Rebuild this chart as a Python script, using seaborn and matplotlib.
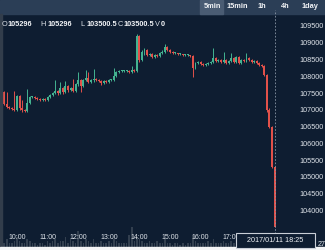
import numpy as np
import pandas as pd
import matplotlib
matplotlib.use("Agg")
import matplotlib.pyplot as plt
import seaborn as sns
from matplotlib.patches import Rectangle

# ---------------- data (5-minute candles, 09:30 -> 18:25) ----------------
opens = [107231, 107530, 107172, 107082, 107052, 107022, 106993, 107411, 107052, 106993,
         106963, 107202, 107381, 107381, 107351, 107321, 107291, 107321, 107291, 107381,
         107440, 107500, 107560, 107500, 107649, 107530, 107709, 107590, 107649, 107560,
         107769, 107888, 107709, 107888, 107948, 107828, 107888, 107918, 107888, 107858,
         107799, 107858, 107828, 107888, 107888, 108008, 108127, 108157, 108157, 108157,
         108157, 108127, 108187, 108157, 109202, 108485, 108724, 108784, 108634, 108664,
         108575, 108634, 108605, 108694, 108724, 108873, 108784, 108724, 108694, 108694,
         108664, 108664, 108634, 108634, 108634, 108605, 108246, 108396, 108425, 108366,
         108336, 108366, 108396, 108425, 108545, 108455, 108485, 108425, 108485, 108396,
         108455, 108545, 108425, 108575, 108396, 108485, 108455, 108545, 108485, 108425,
         108455, 108396, 108336, 108306, 108037, 106993, 106485, 105296]
highs = [107590, 107560, 107530, 107112, 107082, 107560, 107440, 107440, 107291, 107022,
         107619, 107411, 107411, 107411, 107381, 107351, 107351, 107351, 107411, 107470,
         107530, 107888, 107590, 107828, 107679, 107858, 107739, 107679, 107918, 107799,
         108127, 107918, 107918, 108187, 108127, 107918, 108216, 107948, 107918, 107888,
         107888, 107888, 107918, 107918, 108246, 108157, 108187, 108187, 108187, 108187,
         108187, 108306, 108216, 109261, 109231, 108784, 108843, 108814, 108694, 108694,
         108664, 108664, 108724, 108784, 108963, 108903, 108814, 108754, 108724, 108694,
         108694, 108664, 108664, 108664, 108634, 108634, 108425, 108455, 108455, 108396,
         108396, 108425, 108455, 108843, 108575, 108515, 108515, 108724, 108515, 108485,
         108694, 108575, 108605, 108605, 108515, 108515, 108694, 108575, 108515, 108485,
         108485, 108425, 108366, 108336, 108067, 107052, 106515, 105296]
lows = [107202, 107142, 107052, 107022, 106993, 106963, 106963, 106993, 106933, 106933,
        106933, 107172, 107351, 107321, 107291, 107261, 107261, 107261, 107261, 107351,
        107411, 107470, 107440, 107470, 107470, 107500, 107530, 107560, 107530, 107530,
        107709, 107530, 107679, 107858, 107799, 107799, 107828, 107858, 107828, 107739,
        107769, 107799, 107799, 107858, 107858, 107978, 108097, 108127, 108127, 108127,
        108097, 108097, 108127, 108127, 108425, 108455, 108634, 108605, 108605, 108545,
        108545, 108575, 108575, 108664, 108694, 108754, 108694, 108664, 108664, 108634,
        108634, 108605, 108605, 108605, 108575, 107978, 108216, 108366, 108336, 108306,
        108306, 108336, 108366, 108396, 108425, 108425, 108396, 108396, 108366, 108366,
        108425, 108396, 108396, 108366, 108366, 108425, 108425, 108455, 108396, 108396,
        108366, 108306, 108276, 108008, 106933, 106455, 105261, 103500.5]
closes = [107530, 107172, 107082, 107052, 107022, 106993, 107411, 107052, 106993, 106963,
          107202, 107381, 107381, 107351, 107321, 107291, 107321, 107291, 107381, 107440,
          107500, 107560, 107500, 107649, 107530, 107709, 107590, 107649, 107560, 107769,
          107888, 107709, 107888, 107948, 107828, 107888, 107918, 107888, 107858, 107799,
          107858, 107828, 107888, 107888, 108008, 108127, 108157, 108157, 108157, 108157,
          108127, 108187, 108157, 109202, 108485, 108724, 108784, 108634, 108664, 108575,
          108634, 108605, 108694, 108724, 108873, 108784, 108724, 108694, 108694, 108664,
          108664, 108634, 108634, 108634, 108605, 108246, 108396, 108425, 108366, 108336,
          108366, 108396, 108425, 108545, 108455, 108485, 108425, 108485, 108396, 108455,
          108545, 108425, 108575, 108396, 108485, 108455, 108545, 108485, 108425, 108455,
          108396, 108336, 108306, 108037, 106993, 106485, 105296, 103500.5]
volumes = [3, 2, 4, 2, 2, 3, 5, 3, 2, 2, 4, 3,
           2, 2, 1, 2, 2, 1, 3, 2, 3, 4, 2, 3,
           3, 5, 2, 4, 3, 2, 8, 3, 2, 4, 3, 2,
           4, 2, 2, 3, 2, 2, 3, 2, 4, 3, 2, 2,
           2, 2, 6, 10, 3, 5, 4, 3, 2, 2, 3, 2,
           2, 3, 2, 2, 4, 2, 2, 1, 2, 2, 1, 2,
           1, 2, 2, 6, 3, 2, 2, 2, 2, 3, 2, 4,
           2, 2, 2, 3, 2, 2, 3, 2, 3, 2, 2, 2,
           3, 2, 2, 2, 2, 2, 3, 3, 4, 5, 5, 0]
time_tick_idx = [6, 18, 30, 42, 54, 66, 78, 90]
time_labels = ["10:00", "11:00", "12:00", "13:00", "14:00", "15:00", "16:00", "17:00"]
price_ticks = [104000, 104500, 105000, 105500, 106000, 106500, 107000,
               107500, 108000, 108500, 109000, 109500]
intervals = ["5min", "15min", "1h", "4h", "1day"]
header_keys = ["O", "H", "L", "C", "V"]
header_vals = ["105296", "105296", "103500.5", "103500.5", "0"]
cursor_label = "2017/01/11 18:25"
cursor_idx = 107

# ---------------- style ----------------
NAVY = "#0e1d31"
TOPBAR = "#2b3e56"
ACTIVE = "#4a5c73"
GREEN = "#43b391"
RED = "#e2514a"
TXT = "#dfe4ea"

sns.set_theme(style="dark", rc={"axes.facecolor": NAVY, "figure.facecolor": NAVY,
                                "axes.grid": False})
plt.rcParams['font.family'] = ['Liberation Sans', 'DejaVu Sans']

W, H = 325, 250
fig = plt.figure(figsize=(W / 100, H / 100), dpi=100, facecolor=NAVY)

def fx(px):
    return px / W

def fy(py):
    return 1 - py / H

top_px, bot_px, right_px = 10, 247, 298
ax = fig.add_axes([0, fy(bot_px), fx(right_px), (bot_px - top_px) / H])
axv = ax.twinx()

df = pd.DataFrame({"idx": np.arange(len(closes)), "open": opens, "high": highs,
                   "low": lows, "close": closes, "volume": volumes})
df["up"] = df["close"] >= df["open"]

# volume bars (behind)
sns.barplot(data=df, x="idx", y="volume", native_scale=True, color="#5d6977",
            width=0.6, errorbar=None, ax=axv, alpha=0.45, linewidth=0)
axv.set_ylim(0, 118)
axv.set_yticks([])
axv.set_ylabel("")
axv.set_zorder(0)
ax.set_zorder(1)
ax.patch.set_visible(False)
axv.patch.set_visible(False)

colors = np.where(df["up"], GREEN, RED)
ax.vlines(df["idx"], df["low"], df["high"], colors=colors, linewidth=0.7)
body_low = np.minimum(df["open"], df["close"])
body_h = np.maximum((df["close"] - df["open"]).abs(), 25)
ax.bar(df["idx"], body_h, bottom=body_low, width=0.75, color=colors, linewidth=0)

xmin = -1.7 / 2.55
xmax = (right_px - 1.7) / 2.55
ax.set_xlim(xmin, xmax)
ax.set_ylim(109500 - (bot_px - 26) * 29.85, 109500 + (26 - top_px) * 29.85)

ax.yaxis.tick_right()
ax.set_yticks(price_ticks)
ax.set_yticklabels([str(p) for p in price_ticks], ha="right")
ax.tick_params(axis="y", length=0, pad=18.5, labelsize=5.2, labelcolor=TXT)
ax.set_xticks(time_tick_idx)
ax.set_xticklabels(time_labels)
ax.tick_params(axis="x", length=0, pad=-9.6, labelsize=5.0, labelcolor=TXT)
ax.set_xlabel("")
ax.set_ylabel("")
for s in ax.spines.values():
    s.set_visible(False)
for s in axv.spines.values():
    s.set_visible(False)

# crosshair
ax.axvline(cursor_idx, color="#8b97a7", lw=0.6, ls=(0, (2, 2)))

# top bar
fig.patches.append(Rectangle((0, fy(14)), 1, 14 / H, transform=fig.transFigure,
                             color=TOPBAR, zorder=0))
fig.patches.append(Rectangle((fx(200), fy(14)), fx(23), 14 / H, transform=fig.transFigure,
                             color=ACTIVE, zorder=0))
for lab, cx in zip(intervals, [212, 237, 262, 285, 310]):
    fig.text(fx(cx), fy(7), lab, ha="center", va="center", fontsize=5.3,
             fontweight="bold", color="#f2f4f7")

# OHLC header
for k, v, kx, vx in zip(header_keys, header_vals, [2, 40, 80, 118, 155],
                        [8, 47, 86, 124, 161]):
    fig.text(fx(kx), fy(24), k, ha="left", va="center", fontsize=5.3, color=TXT)
    fig.text(fx(vx), fy(24), v, ha="left", va="center", fontsize=5.3,
             fontweight="bold", color="#f2f4f7")

# left edge strip
fig.patches.append(Rectangle((0, 0), fx(2), fy(14), transform=fig.transFigure,
                             color="#323d4b", zorder=3))

# bottom white strip
fig.patches.append(Rectangle((0, 0), 1, 3 / H, transform=fig.transFigure,
                             color="#f4f5f7", zorder=4))
fig.text(fx(318), fy(245), "27", ha="left", va="center", fontsize=5.2, color=TXT,
         zorder=3)

# date box at cursor
fig.patches.append(Rectangle((fx(236), fy(247.5)), fx(79), 14.5 / H,
                             transform=fig.transFigure, facecolor=NAVY,
                             edgecolor="#c9cfd7", linewidth=0.8, zorder=5))
fig.text(fx(275.5), fy(240.5), cursor_label, ha="center", va="center", fontsize=5.2,
         color="#f2f4f7", zorder=6)

fig.savefig("out.png", dpi=100, facecolor=NAVY)
